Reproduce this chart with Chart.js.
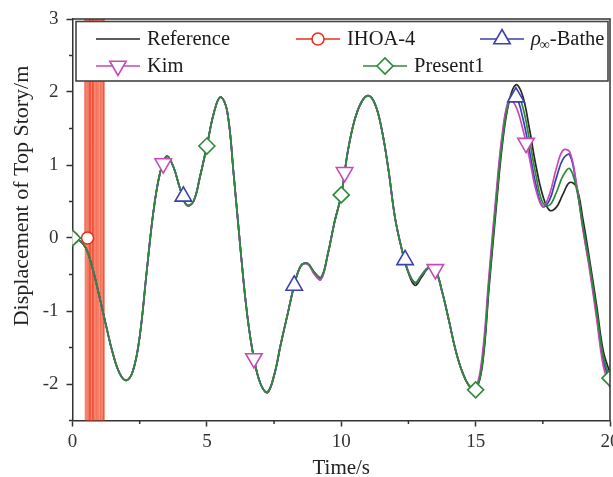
<!DOCTYPE html>
<html>
<head>
<meta charset="utf-8">
<script src="https://cdn.jsdelivr.net/npm/chart.js@4.4.0/dist/chart.umd.min.js"></script>
<style>
  html, body { margin: 0; padding: 0; background: #fff; }
</style>
</head>
<body>
<canvas id="chart-disp" width="613" height="477"></canvas>
<script>
// time grid (s)
var time = [
  0, 0.25, 0.5, 0.75, 1, 1.25, 1.5, 1.75, 2, 2.25, 2.5, 2.75, 3, 3.25, 3.5, 3.75,
  4, 4.25, 4.5, 4.75, 5, 5.25, 5.5, 5.75, 6, 6.25, 6.5, 6.75, 7, 7.25, 7.5, 7.75,
  8, 8.25, 8.5, 8.75, 9, 9.25, 9.5, 9.75, 10, 10.25, 10.5, 10.75, 11, 11.25, 11.5, 11.75,
  12, 12.25, 12.5, 12.75, 13, 13.25, 13.5, 13.75, 14, 14.25, 14.5, 14.75, 15, 15.25, 15.5, 15.75,
  16, 16.25, 16.5, 16.75, 17, 17.25, 17.5, 17.75, 18, 18.25, 18.5, 18.75, 19, 19.25, 19.5, 19.75, 20
];

// top story displacement (m)
var refY = [
  0, -0.03, -0.14, -0.42, -0.8, -1.2, -1.58, -1.85, -1.95, -1.82, -1.35, -0.5, 0.33, 0.88, 1.12, 0.98,
  0.68, 0.45, 0.5, 0.85, 1.26, 1.7, 1.93, 1.75, 0.86, -0.15, -1.05, -1.65, -2.0, -2.12, -1.89, -1.46,
  -1.05, -0.65, -0.38, -0.35, -0.47, -0.54, -0.22, 0.22, 0.59, 1.2, 1.62, 1.86, 1.95, 1.84, 1.5, 0.95,
  0.28, -0.15, -0.48, -0.65, -0.53, -0.41, -0.44, -0.73, -1.12, -1.53, -1.83, -2.02, -2.08, -1.75, -0.68, 0.35,
  1.3, 1.88, 2.1, 1.95, 1.5, 0.98, 0.58, 0.38, 0.42, 0.6, 0.76, 0.7, 0.24, -0.32, -0.92, -1.55, -1.85
];
var batheY = [
  0, -0.03, -0.14, -0.42, -0.8, -1.2, -1.58, -1.85, -1.95, -1.82, -1.35, -0.5, 0.33, 0.88, 1.12, 0.98,
  0.68, 0.45, 0.5, 0.85, 1.26, 1.7, 1.93, 1.75, 0.86, -0.15, -1.05, -1.65, -2.0, -2.11, -1.88, -1.45,
  -1.05, -0.65, -0.38, -0.35, -0.48, -0.55, -0.22, 0.22, 0.59, 1.2, 1.62, 1.86, 1.95, 1.84, 1.5, 0.95,
  0.28, -0.15, -0.47, -0.62, -0.51, -0.41, -0.44, -0.73, -1.12, -1.53, -1.83, -2.02, -2.07, -1.68, -0.58, 0.48,
  1.4, 1.9, 1.93, 1.65, 1.2, 0.72, 0.43, 0.52, 0.82, 1.08, 1.14, 0.72, 0.12, -0.42, -1.05, -1.68, -1.98
];
var kimY = [
  0, -0.03, -0.14, -0.42, -0.8, -1.2, -1.58, -1.85, -1.95, -1.82, -1.35, -0.5, 0.33, 0.88, 1.12, 0.98,
  0.68, 0.45, 0.5, 0.85, 1.26, 1.7, 1.93, 1.75, 0.86, -0.15, -1.05, -1.65, -2.0, -2.11, -1.88, -1.45,
  -1.05, -0.65, -0.38, -0.36, -0.5, -0.57, -0.23, 0.22, 0.59, 1.2, 1.62, 1.86, 1.95, 1.84, 1.5, 0.95,
  0.28, -0.15, -0.46, -0.61, -0.5, -0.41, -0.45, -0.74, -1.12, -1.53, -1.83, -2.02, -2.07, -1.6, -0.5, 0.55,
  1.45, 1.9, 1.8, 1.5, 1.1, 0.65, 0.43, 0.6, 0.95, 1.2, 1.18, 0.75, 0.1, -0.46, -1.1, -1.75, -2.05
];
var presentY = [
  0, -0.03, -0.14, -0.42, -0.8, -1.2, -1.58, -1.85, -1.95, -1.82, -1.35, -0.5, 0.33, 0.88, 1.12, 0.98,
  0.68, 0.45, 0.5, 0.85, 1.26, 1.7, 1.93, 1.75, 0.86, -0.15, -1.05, -1.65, -2.0, -2.11, -1.88, -1.45,
  -1.05, -0.65, -0.38, -0.35, -0.47, -0.54, -0.22, 0.22, 0.59, 1.2, 1.62, 1.86, 1.95, 1.84, 1.5, 0.95,
  0.28, -0.15, -0.47, -0.61, -0.5, -0.4, -0.43, -0.73, -1.12, -1.53, -1.83, -2.02, -2.08, -1.72, -0.62, 0.42,
  1.35, 1.88, 2.02, 1.8, 1.35, 0.85, 0.48, 0.45, 0.62, 0.85, 0.95, 0.68, 0.15, -0.38, -1.0, -1.62, -1.92
];
// IHOA-4 blows up right after the start
var ihoaT = [0, 0.25, 0.44, 0.46, 0.49, 0.52, 0.55, 0.57, 0.6, 0.63, 0.65, 0.68, 0.71, 0.74, 0.76,
  0.79, 0.82, 0.85, 0.88, 0.9, 0.93, 0.96, 0.99, 1.02, 1.05, 1.08, 1.11, 1.14, 1.17];
var ihoaY = [0, 0, 0, 40, -55, 70, -90, 110, -130, 150, -170, 190, -210, 230, -250,
  270, -290, 310, -330, 350, -370, 390, -410, 430, -450, 470, -490, 510, -530];

// symbol positions
var ihoaMarkT = [0, 0.56], ihoaMarkY = [0, 0];
var batheMarkT = [4.125, 8.25, 12.375, 16.5], batheMarkY = [0.57, -0.65, -0.3, 1.93];
var kimMarkT = [3.375, 6.75, 10.125, 13.5, 16.875], kimMarkY = [1.02, -1.65, 0.9, -0.43, 1.3];
var presentMarkT = [0, 5, 10, 15, 20], presentMarkY = [0, 1.26, 0.59, -2.08, -1.92];

var xTicks = [0, 5, 10, 15, 20], xMinor = [2.5, 7.5, 12.5, 17.5];
var yTicks = [-2, -1, 0, 1, 2, 3], yMinor = [-2.5, -1.5, -0.5, 0.5, 1.5, 2.5];

var cRef = '#262626', cIhoa = '#ee2c1e', cBathe = '#3a40b2', cKim = '#c64ab8', cPresent = '#2b8a38';
var axisColor = '#333';
var serif = '"Liberation Serif", "Times New Roman", serif';

function pts(xs, ys) {
  return xs.map(function (x, i) { return { x: x, y: ys[i] }; });
}

function curve(label, ys, color) {
  return {
    label: label, data: pts(time, ys), borderColor: color, borderWidth: 1.7,
    pointRadius: 0, tension: 0.4, fill: false
  };
}

function symbols(label, xs, ys, color, style, radius, rotation) {
  return {
    label: label, data: pts(xs, ys), showLine: false, borderColor: color,
    backgroundColor: '#fff', pointStyle: style, pointRadius: radius,
    pointRotation: rotation || 0, pointBorderWidth: 1.6
  };
}

var legendItems = [
  { label: 'Reference', color: cRef, style: null, x: 96, y: 39 },
  { label: 'IHOA-4', color: cIhoa, style: 'circle', r: 6, x: 296, y: 39 },
  { label: '-Bathe', color: cBathe, style: 'triangle', r: 9.5, x: 480, y: 39, rho: true },
  { label: 'Kim', color: cKim, style: 'triangle', r: 9.5, rot: 180, x: 96, y: 66 },
  { label: 'Present1', color: cPresent, style: 'rectRot', r: 8, x: 363, y: 66 }
];

var frameAndLegend = {
  id: 'frameAndLegend',
  afterDraw: function (chart) {
    var ctx = chart.ctx, a = chart.chartArea;
    var xs = chart.scales.x, ys = chart.scales.y;
    ctx.save();
    ctx.strokeStyle = axisColor;
    ctx.lineWidth = 1.5;
    ctx.beginPath();
    xMinor.forEach(function (v) {
      var p = xs.getPixelForValue(v);
      ctx.moveTo(p, a.bottom); ctx.lineTo(p, a.bottom + 3.5);
    });
    yMinor.forEach(function (v) {
      var p = ys.getPixelForValue(v);
      ctx.moveTo(a.left, p); ctx.lineTo(a.left - 3.5, p);
    });
    ctx.moveTo(a.left, a.top); ctx.lineTo(a.right, a.top); ctx.lineTo(a.right, a.bottom);
    ctx.stroke();

    // y axis title, sits a bit above the middle of the axis
    ctx.save();
    ctx.translate(22, 196);
    ctx.rotate(-Math.PI / 2);
    ctx.font = '22px ' + serif;
    ctx.fillStyle = '#222';
    ctx.textAlign = 'center';
    ctx.textBaseline = 'middle';
    ctx.fillText('Displacement of Top Story/m', 0, 0);
    ctx.restore();

    // legend box
    ctx.fillStyle = '#fff';
    ctx.fillRect(76, 21.5, 532, 59.5);
    ctx.strokeStyle = '#444';
    ctx.lineWidth = 1.6;
    ctx.strokeRect(76, 21.5, 532, 59.5);

    legendItems.forEach(function (it) {
      ctx.strokeStyle = it.color;
      ctx.lineWidth = 1.6;
      ctx.beginPath();
      ctx.moveTo(it.x, it.y); ctx.lineTo(it.x + 44, it.y);
      ctx.stroke();
      if (it.style) {
        ctx.fillStyle = '#fff';
        Chart.helpers.drawPoint(ctx, {
          pointStyle: it.style, radius: it.r, rotation: it.rot || 0, borderWidth: 1.6
        }, it.x + 22, it.y);
      }
      var tx = it.x + 51;
      ctx.fillStyle = '#1a1a1a';
      ctx.textBaseline = 'middle';
      ctx.textAlign = 'left';
      if (it.rho) {
        ctx.font = 'italic 20.5px ' + serif;
        ctx.fillText('\u03c1', tx, it.y + 1);
        tx += ctx.measureText('\u03c1').width;
        ctx.font = '14px ' + serif;
        ctx.fillText('\u221e', tx - 1, it.y + 6);
        tx += ctx.measureText('\u221e').width - 1;
      }
      ctx.font = '20.5px ' + serif;
      ctx.fillText(it.label, tx, it.y + 1);
    });
    ctx.restore();
  }
};

var ctx1 = document.getElementById('chart-disp').getContext('2d');

new Chart(ctx1, {
  type: 'line',
  data: {
    datasets: [
      symbols('Present1', presentMarkT, presentMarkY, cPresent, 'rectRot', 8),
      symbols('Kim', kimMarkT, kimMarkY, cKim, 'triangle', 9.5, 180),
      symbols('Bathe', batheMarkT, batheMarkY, cBathe, 'triangle', 9.5),
      symbols('IHOA-4', ihoaMarkT, ihoaMarkY, cIhoa, 'circle', 6),
      curve('Present1', presentY, cPresent),
      curve('Kim', kimY, cKim),
      curve('Bathe', batheY, cBathe),
      curve('Reference', refY, cRef),
      {
        label: 'IHOA-4', data: pts(ihoaT, ihoaY), borderColor: 'rgba(240,70,40,0.7)',
        borderWidth: 1, pointRadius: 0, tension: 0, fill: false
      }
    ]
  },
  options: {
    responsive: false,
    animation: false,
    events: [],
    layout: { autoPadding: false, padding: { top: 19, right: 3, left: 0, bottom: 0 } },
    plugins: {
      legend: { display: false },
      tooltip: { enabled: false }
    },
    scales: {
      x: {
        type: 'linear',
        min: 0,
        max: 20,
        afterBuildTicks: function (scale) {
          scale.ticks = xTicks.map(function (v) { return { value: v }; });
        },
        afterFit: function (scale) {
          scale.height = 56.5;
          scale.paddingLeft = 0;
          scale.paddingRight = 0;
        },
        grid: {
          drawOnChartArea: false,
          drawTicks: true,
          tickLength: 6,
          tickColor: axisColor,
          tickWidth: 1.5
        },
        border: { color: axisColor, width: 1.5 },
        ticks: {
          autoSkip: false,
          maxRotation: 0,
          padding: 4,
          color: '#333',
          font: { family: serif, size: 19 }
        },
        title: {
          display: true,
          text: 'Time/s',
          color: '#222',
          padding: 0,
          font: { family: serif, size: 21, lineHeight: 0.8 }
        }
      },
      y: {
        type: 'linear',
        min: -2.5,
        max: 3,
        afterBuildTicks: function (scale) {
          scale.ticks = yTicks.map(function (v) { return { value: v }; });
        },
        afterFit: function (scale) {
          scale.width = 72.5;
          scale.paddingTop = 0;
          scale.paddingBottom = 0;
        },
        grid: {
          drawOnChartArea: false,
          drawTicks: true,
          tickLength: 6,
          tickColor: axisColor,
          tickWidth: 1.5
        },
        border: { color: axisColor, width: 1.5 },
        ticks: {
          autoSkip: false,
          padding: 8,
          color: '#333',
          font: { family: serif, size: 19 }
        },
        title: { display: false }
      }
    }
  },
  plugins: [frameAndLegend]
});
</script>
</body>
</html>
